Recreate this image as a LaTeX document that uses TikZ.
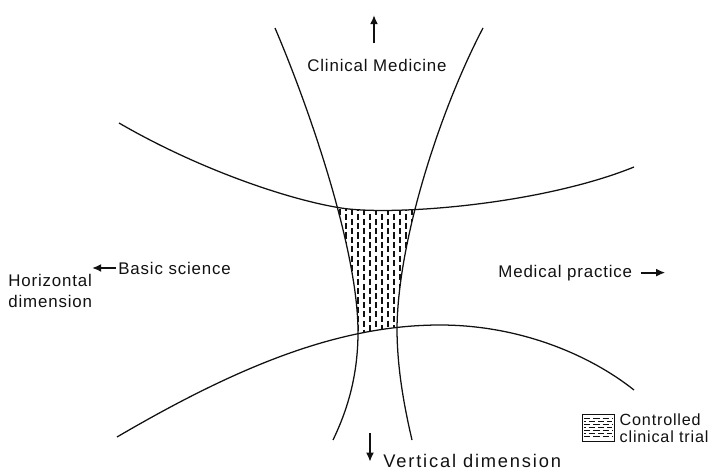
\documentclass[tikz,border=0pt]{standalone}
\usepackage{fontspec}
\setmainfont{Liberation Sans}[LetterSpace=5]
\usetikzlibrary{arrows.meta, positioning}
\definecolor{plotink}{HTML}{111111}
\newcommand{\upperarc}{(119,123) .. controls (200,170) and (290,200) .. (341,208) .. controls (392,216) and (540,205) .. (634,167)}
\newcommand{\lowerarc}{(117,437) .. controls (240,365) and (340,325) .. (440,325) .. controls (520,325) and (590,355) .. (634,390)}
\newcommand{\leftarc}{(275,28) .. controls (310,110) and (358,250) .. (358,332) .. controls (358,380) and (345,415) .. (333,440)}
\newcommand{\rightarc}{(483,28) .. controls (440,110) and (398,240) .. (397,328) .. controls (397,370) and (405,410) .. (412,440)}
\tikzset{
  curve/.style={draw=plotink, line width=0.9pt},
  hatch/.style={draw=plotink, line width=0.85pt, dash pattern=on 4.3pt off 2.3pt},
  keyhatch/.style={draw=plotink, line width=0.65pt, dash pattern=on 4.6pt off 2pt},
  keybox/.style={draw=plotink, line width=0.7pt, minimum width=0.8cm, minimum height=0.675cm, inner sep=0pt},
  lbl/.style={font=\fontsize{12}{15}\selectfont, text=plotink, inner sep=1.5pt, align=left},
  flow/.style={-{Latex[length=2.3mm, width=2mm]}, draw=plotink, line width=1.4pt}
}
\begin{document}
\begin{tikzpicture}[x=0.025cm, y=-0.025cm]
\useasboundingbox (0,0) rectangle (714,469);
% the four curves
\draw[curve] \upperarc;
\draw[curve] \lowerarc;
\draw[curve] \leftarc;
\draw[curve] \rightarc;
% controlled clinical trial area
\begin{scope}
  \clip \upperarc -- (634,469) -- (119,469) -- cycle;
  \clip \lowerarc -- (634,0) -- (117,0) -- cycle;
  \clip \leftarc -- (714,440) -- (714,28) -- cycle;
  \clip \rightarc -- (0,440) -- (0,28) -- cycle;
  \foreach \x in {340,352,...,420} \draw[hatch] (\x,200) -- (\x,340);
  \foreach \x in {346,358,...,420} \draw[hatch, dash phase=3.3pt] (\x,200) -- (\x,340);
\end{scope}
% labels and arrows
\node[lbl, anchor=base] (clin) at (377,71) {Clinical Medicine};
\coordinate (cltail) at (374,43);
\coordinate[above=0.7cm of cltail] (cltip);
\draw[flow] (cltail) -- (cltip);
\node[lbl, anchor=base west] (basic) at (116,274) {Basic science};
\coordinate[left=0.6cm of basic.west] (basictip);
\draw[flow] (basic.west) -- (basictip);
\node[lbl, anchor=north west] (horiz) at (6,272) {Horizontal\\dimension};
\node[lbl, anchor=base west] (medp) at (496,277) {Medical practice};
\coordinate[right=0.15cm of medp.east] (medtail);
\coordinate[right=0.62cm of medtail] (medtip);
\draw[flow] (medtail) -- (medtip);
\node[lbl, anchor=base west, font=\fontsize{13}{15}\selectfont\addfontfeatures{LetterSpace=10}] (vert) at (381,467) {Vertical dimension};
\coordinate (vtail) at (370,433);
\coordinate[below=0.72cm of vtail] (vtip);
\draw[flow] (vtail) -- (vtip);
% key
\node[keybox] (key) at (598,427.5) {};
\foreach \y in {418.5,424.5,430.5,436.5} \draw[keyhatch] (584,\y) -- (612,\y);
\foreach \y in {421.5,427.5,433.5} \draw[keyhatch, dash phase=3.3pt] (584,\y) -- (612,\y);
\node[lbl, anchor=north west, font=\fontsize{11.5}{12}\selectfont] (keytxt) at ([xshift=2pt, yshift=1.5pt]key.north east) {Controlled\\clinical trial};
\end{tikzpicture}
\end{document}
